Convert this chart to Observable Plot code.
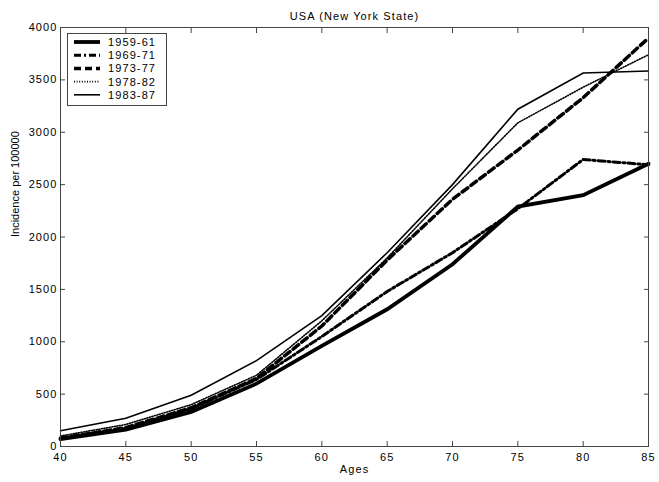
<!DOCTYPE html>
<html>
<head>
<meta charset="utf-8">
<script src="https://cdn.jsdelivr.net/npm/d3@7"></script>
<script src="https://cdn.jsdelivr.net/npm/@observablehq/plot@0.6"></script>
<style>
  html, body { margin: 0; padding: 0; background: #fff; }
  #wrap { position: relative; width: 659px; height: 482px; font-family: "Liberation Sans", Arial, sans-serif; }
  #legend { position: absolute; left: 67px; top: 33px; }
  .wide { letter-spacing: 1.1px; }
</style>
</head>
<body>
<div id="wrap"><div id="chart"></div><div id="legend"></div></div>
<script>
const ages = [40, 45, 50, 55, 60, 65, 70, 75, 80, 85];
const periods = ["1959-61", "1969-71", "1973-77", "1978-82", "1983-87"];
const v1959 = [70, 160, 330, 600, 960, 1310, 1740, 2290, 2400, 2700];
const v1969 = [80, 170, 360, 640, 1050, 1480, 1850, 2270, 2740, 2690];
const v1973 = [80, 180, 370, 650, 1150, 1780, 2360, 2830, 3330, 3900];
const v1978 = [100, 210, 400, 680, 1200, 1800, 2460, 3090, 3430, 3740];
const v1983 = [150, 270, 490, 820, 1250, 1850, 2500, 3220, 3565, 3585];
const xTicks = [40, 45, 50, 55, 60, 65, 70, 75, 80, 85];
const yTicks = [0, 500, 1000, 1500, 2000, 2500, 3000, 3500, 4000];

const seriesValues = [v1959, v1969, v1973, v1978, v1983];
const styles = [
  {strokeWidth: 3.8, dash: null},
  {strokeWidth: 3, dash: "7,3,2,3"},
  {strokeWidth: 3.5, dash: "7,4"},
  {strokeWidth: 1.6, dash: "1,1.6"},
  {strokeWidth: 1.6, dash: null}
];
const rows = periods.map((p, i) => ages.map((a, j) => ({period: p, age: a, value: seriesValues[i][j]})));

const lineMarks = rows.map((r, i) => Plot.line(r, {
  x: "age", y: "value", stroke: "black",
  strokeWidth: styles[i].strokeWidth,
  strokeDasharray: styles[i].dash,
  strokeLinejoin: "miter", strokeMiterlimit: 2
}));

const fmt = d => String(d);
const chart = Plot.plot({
  width: 659, height: 482,
  marginLeft: 60, marginRight: 11, marginTop: 27, marginBottom: 36,
  style: {fontFamily: "Liberation Sans, Arial, sans-serif", fontSize: "11px", color: "black", background: "white"},
  x: {domain: [40, 85]},
  y: {domain: [0, 4000]},
  marks: [
    ...lineMarks,
    Plot.frame({stroke: "#444", strokeWidth: 1}),
    Plot.axisX(xTicks, {anchor: "bottom", tickSize: -5, tickPadding: 12, tickFormat: fmt, label: null, stroke: "#444", className: "wide"}),
    Plot.axisX(xTicks, {anchor: "top", tickSize: -5, tickFormat: () => "", label: null, stroke: "#444"}),
    Plot.axisY(yTicks, {anchor: "left", tickSize: -5, tickPadding: 8, tickFormat: fmt, label: null, stroke: "#444", className: "wide"}),
    Plot.axisY(yTicks, {anchor: "right", tickSize: -5, tickFormat: () => "", label: null, stroke: "#444"}),
    Plot.text(["USA (New York State)"], {frameAnchor: "top", dy: -15, fontSize: 11, className: "wide"}),
    Plot.text(["Ages"], {frameAnchor: "bottom", dy: 26, fontSize: 11, className: "wide"}),
    Plot.text(["Incidence per 100000"], {frameAnchor: "left", dx: -45, rotate: -90, fontSize: 11})
  ]
});
document.getElementById("chart").appendChild(chart);

// Legend
const lw = 100, lh = 73;
const svg = d3.select("#legend").append("svg").attr("width", lw).attr("height", lh)
  .style("font-family", "Liberation Sans, Arial, sans-serif");
svg.append("rect").attr("x", 0.5).attr("y", 0.5).attr("width", lw - 1).attr("height", lh - 1)
  .attr("fill", "white").attr("stroke", "#444");
periods.forEach((p, i) => {
  const yy = 9 + i * 13.2;
  svg.append("line").attr("x1", 7).attr("x2", 33).attr("y1", yy).attr("y2", yy)
    .attr("stroke", "black").attr("stroke-width", styles[i].strokeWidth)
    .attr("stroke-dasharray", styles[i].dash);
  svg.append("text").attr("x", 41).attr("y", yy + 4).attr("font-size", 11)
    .attr("letter-spacing", "1.1px").text(p);
});
</script>
</body>
</html>
